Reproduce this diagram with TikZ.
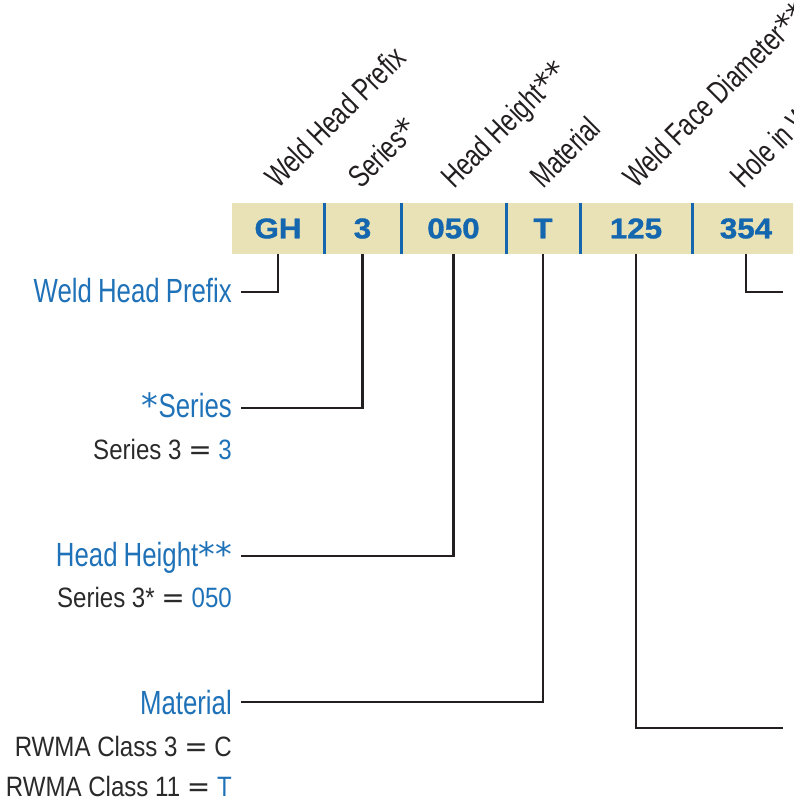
\documentclass[tikz,border=0pt]{standalone}
\usepackage{fontspec}
\setmainfont{Liberation Sans}[FakeStretch=0.86]
\newfontfamily\lblfont{Liberation Sans}[FakeStretch=0.77,WordSpace=0.85]
\newfontfamily\rotfont{Liberation Sans}[FakeStretch=0.75]
\newfontfamily\barfont{Liberation Sans}[FakeStretch=1.1,FakeBold=1.2]
\newfontfamily\eqfont{DejaVu Sans}
\definecolor{beige}{HTML}{E8E2B6}
\definecolor{barblue}{HTML}{1466AE}
\definecolor{lblblue}{HTML}{1F72B8}
\definecolor{ink}{HTML}{231F20}
\definecolor{darktext}{HTML}{2A2A2A}
\newcommand{\eqs}{\ {\eqfont =}\ }
\newcommand{\bigast}{{\eqfont *}}
\begin{document}
\begin{tikzpicture}[x=1pt,y=-1pt,
  cell/.style={fill=beige, draw=none, minimum height=51, inner sep=0,
    text=barblue, font=\barfont\bfseries\fontsize{28.5}{32}\selectfont},
  divider/.style={draw=barblue, line width=3pt},
  conn/.style={draw=ink, line width=2.6pt, line join=miter},
  lbl/.style={anchor=base east, inner sep=0, text=lblblue,
    font=\lblfont\fontsize{33.5}{40}\selectfont},
  sublbl/.style={anchor=base east, inner sep=0, text=darktext,
    font=\fontsize{28}{32}\selectfont},
  rot/.style={anchor=base west, inner sep=0, rotate=45, text=ink,
    font=\rotfont\fontsize{31.5}{36}\selectfont}]
\useasboundingbox (0,0) rectangle (793,803);
\clip (0,0) rectangle (793,803);

% code bar cells
\node[cell, minimum width=92]  (gh)   at (278,228.5)   {GH};
\node[cell, minimum width=77]  (ser)  at (362.5,228.5) {3};
\node[cell, minimum width=105] (hh)   at (453.5,228.5) {050};
\node[cell, minimum width=74]  (mat)  at (543,228.5)   {T};
\node[cell, minimum width=112] (wfd)  at (636,228.5)   {125};
\node[cell, minimum width=108] (hole) at (746,228.5)   {354};

\draw[divider] (gh.north east) -- (gh.south east);
\draw[divider] (ser.north east) -- (ser.south east);
\draw[divider] (hh.north east) -- (hh.south east);
\draw[divider] (mat.north east) -- (mat.south east);
\draw[divider] (wfd.north east) -- (wfd.south east);

% rotated headings
\node[rot] (rgh)   at (278,190) {Weld Head Prefix};
\node[rot] (rser)  at (361,190) {Series\bigast};
\node[rot] (rhh)   at (454,190) {Head Height\bigast\bigast};
\node[rot] (rmat)  at (543,190) {Material};
\node[rot] (rwfd)  at (636,190) {Weld Face Diameter\bigast\bigast};
\node[rot] (rhole) at (743,190) {Hole in Weld Face};

% left labels
\node[lbl] (lgh) at (232,302) {Weld Head Prefix};
\node[lbl] (lser) at (232,417) {\bigast Series};
\node[sublbl] (sser) at (232,459) {Series 3\eqs\textcolor{lblblue}{3}};
\node[lbl] (lhh) at (232,566) {Head Height\bigast\bigast};
\node[sublbl] (shh) at (232,607) {Series 3*\eqs\textcolor{lblblue}{050}};
\node[lbl] (lmat) at (232,714) {Material};
\node[sublbl] (smat1) at (232,756) {RWMA Class 3\eqs C};
\node[sublbl] (smat2) at (232,796) {RWMA Class 11\eqs\textcolor{lblblue}{T}};

% connector ends
\coordinate (egh)   at (241,292);
\coordinate (eser)  at (241,408);
\coordinate (ehh)   at (241,556);
\coordinate (emat)  at (241,702);
\coordinate (ewfd)  at (783,728);
\coordinate (ehole) at (783,292);

\draw[conn] (gh.south)   |- (egh);
\draw[conn] (ser.south)  |- (eser);
\draw[conn] (hh.south)   |- (ehh);
\draw[conn] (mat.south)  |- (emat);
\draw[conn] (wfd.south)  |- (ewfd);
\draw[conn] (hole.south) |- (ehole);
\end{tikzpicture}
\end{document}
